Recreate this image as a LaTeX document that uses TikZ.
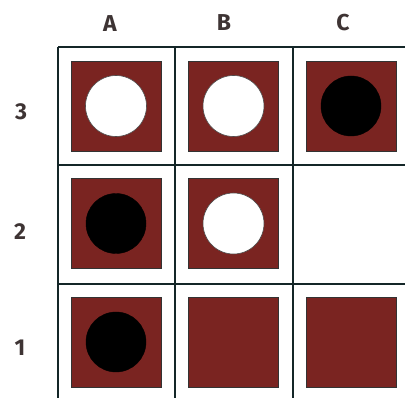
\documentclass[tikz,border=0pt]{standalone}
\usepackage{fontspec}
\setmainfont{Fira Sans}
\definecolor{sqred}{HTML}{7A2421}
\definecolor{gridc}{HTML}{142628}
\definecolor{labc}{HTML}{3E3434}
\begin{document}
\begin{tikzpicture}[x=1pt,y=-1pt,
  sq/.style={draw=black!80,line width=0.6pt,fill=sqred,minimum size=90pt,inner sep=0pt,outer sep=0pt},
  whitedot/.style={circle,draw=black!70,line width=0.6pt,fill=white,minimum size=61pt,inner sep=0pt},
  blackdot/.style={circle,draw=black,fill=black,minimum size=60pt,inner sep=0pt},
  gridline/.style={draw=gridc,line width=1.8pt},
  lab/.style={text=labc,font=\fontsize{23}{23}\selectfont\bfseries,inner sep=0pt}]
\useasboundingbox (0,0) rectangle (405,398);
% grid
\coordinate (v1t) at (58,47); \coordinate (v1b) at (58,398);
\coordinate (v2t) at (175,47); \coordinate (v2b) at (175,398);
\coordinate (v3t) at (293,47); \coordinate (v3b) at (293,398);
\coordinate (h1l) at (58,47); \coordinate (h1r) at (405,47);
\coordinate (h2l) at (58,165); \coordinate (h2r) at (405,165);
\coordinate (h3l) at (58,284); \coordinate (h3r) at (405,284);
\draw[gridline] (v1t) -- (v1b);
\draw[gridline] (v2t) -- (v2b);
\draw[gridline] (v3t) -- (v3b);
\draw[gridline] (h1l) -- (h1r);
\draw[gridline] (h2l) -- (h2r);
\draw[gridline] (h3l) -- (h3r);
% squares
\node[sq] (A3) at (116,106) {};
\node[sq] (B3) at (233.5,106) {};
\node[sq] (C3) at (351,106) {};
\node[sq] (A2) at (116,223.5) {};
\node[sq] (B2) at (233.5,223.5) {};
\node[sq] (A1) at (116,342) {};
\node[sq] (B1) at (233.5,342) {};
\node[sq] (C1) at (351,342) {};
% discs
\node[whitedot] (dA3) at (A3) {};
\node[whitedot] (dB3) at (B3) {};
\node[blackdot] (dC3) at (C3) {};
\node[blackdot] (dA2) at (A2) {};
\node[whitedot] (dB2) at (B2) {};
\node[blackdot] (dA1) at (A1) {};
% labels
\node[lab] (lA) at (110,24) {A};
\node[lab] (lB) at (224,23) {B};
\node[lab] (lC) at (343,23) {C};
\node[lab] (l3) at (21,112) {3};
\node[lab] (l2) at (20,232) {2};
\node[lab] (l1) at (20,348) {1};
\end{tikzpicture}
\end{document}
